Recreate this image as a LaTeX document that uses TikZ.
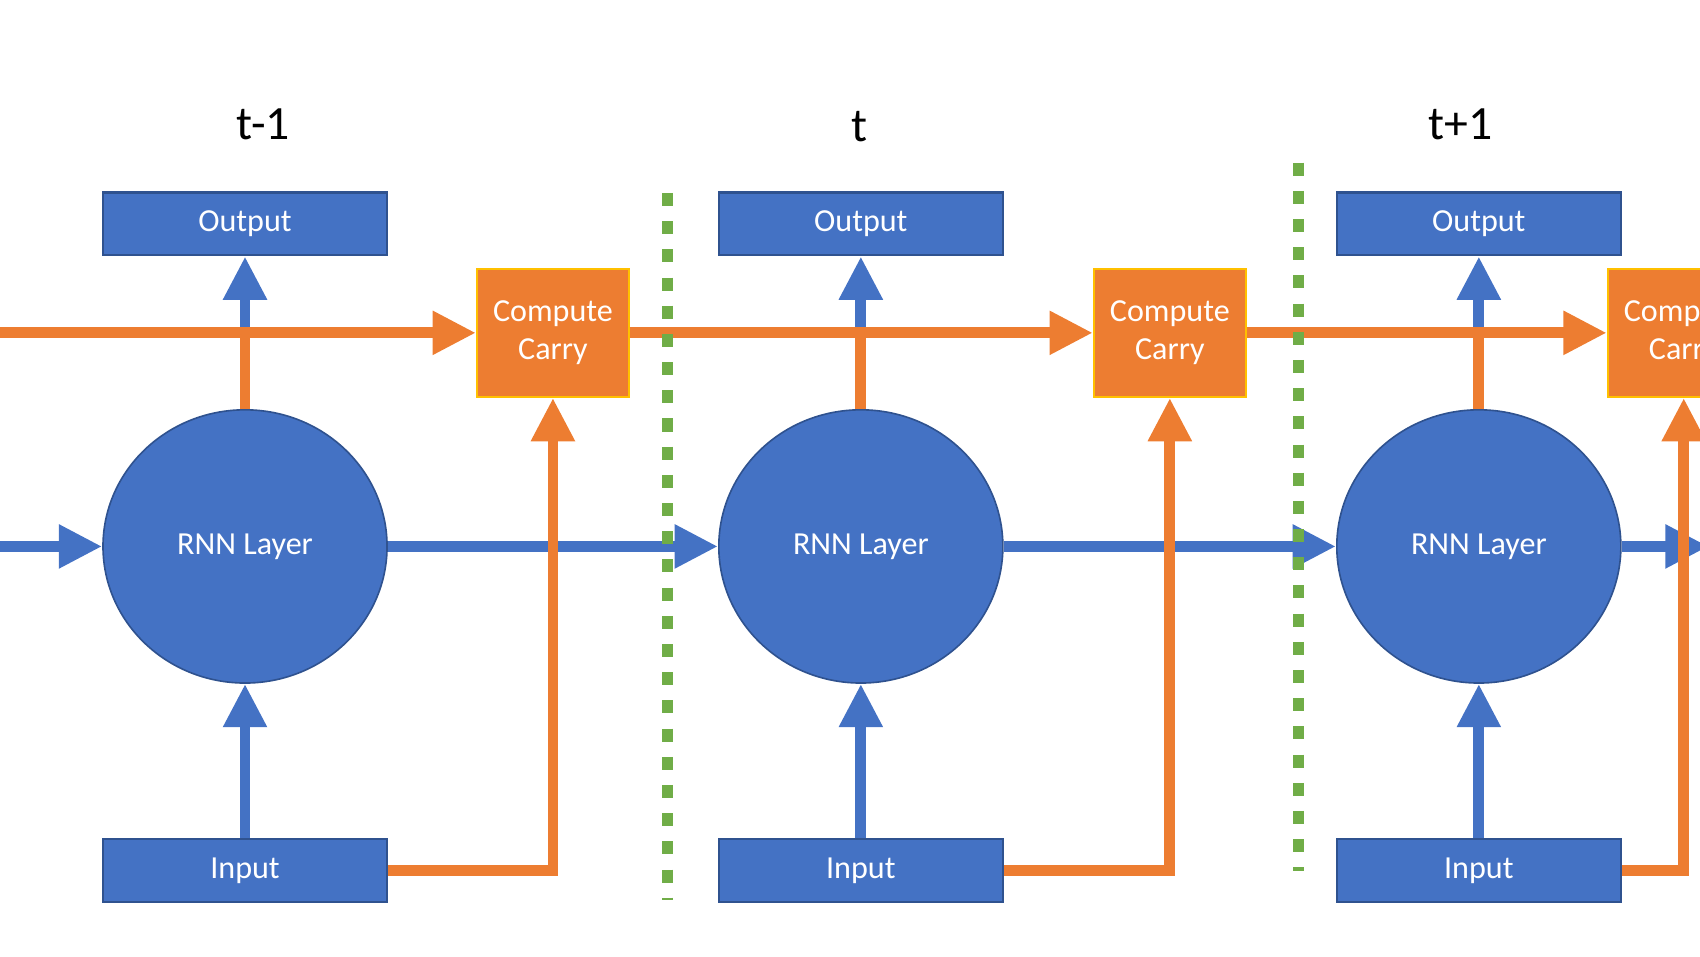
\documentclass[tikz,border=0pt]{standalone}
\usepackage{fontspec}
\setmainfont{Carlito}
\usepackage{tikz}
\usepackage{xcolor}
\usetikzlibrary{arrows.meta,shapes.geometric}
\definecolor{boxblue}{RGB}{68,114,196}
\definecolor{boxedge}{RGB}{47,82,143}
\definecolor{carryorange}{RGB}{237,125,49}
\definecolor{carryedge}{RGB}{255,192,0}
\definecolor{splitgreen}{RGB}{112,173,71}
\tikzset{every picture/.style={line width=0.75pt}}

\begin{document}
\begin{tikzpicture}[x=0.5pt,y=0.5pt,yscale=-1,xscale=1,
  blockbox/.style={draw=boxedge,fill=boxblue,line width=1pt,minimum width=131pt,minimum height=29pt,inner sep=0pt,text=white,font=\fontsize{14.8}{17.5}\selectfont},
  carrybox/.style={draw=carryedge,fill=carryorange,line width=1pt,minimum width=70pt,minimum height=59pt,inner sep=0pt,text=white,align=center,font=\fontsize{14.8}{17.5}\selectfont},
  layerball/.style={ellipse,draw=boxedge,fill=boxblue,line width=0.75pt,minimum width=131pt,minimum height=126pt,inner sep=0pt,text=white,font=\fontsize{14.8}{17.5}\selectfont},
  steplabel/.style={font=\fontsize{22}{26}\selectfont},
  bluearrow/.style={draw=boxblue,line width=5pt,-{Triangle[length=20pt,width=19pt]}},
  orangeline/.style={draw=carryorange,line width=5pt},
  orangearrow/.style={orangeline,-{Triangle[length=20pt,width=19pt]}},
  sepline/.style={draw=splitgreen,line width=5pt,dash pattern=on 6pt off 7pt}]
\clip (0,0) rectangle (1568,882);

% Step labels
\node[steplabel] (lab1) at (243,115) {t-1};
\node[steplabel] (lab2) at (793,117) {t};
\node[steplabel] (lab3) at (1347,115) {t+1};

%Shape: Output boxes
\node[blockbox] (out1) at (226,206.5) {Output};
\node[blockbox] (out2) at (794,206.5) {Output};
\node[blockbox] (out3) at (1364,206.5) {Output};
%Shape: Compute Carry boxes
\node[carrybox] (cc1) at (510,307) {Compute\\Carry};
\node[carrybox] (cc2) at (1079,307) {Compute\\Carry};
\node[carrybox] (cc3) at (1553,307) {Compute\\Carry};
%Shape: Ellipses
\node[layerball] (rnn1) at (226,504) {RNN Layer};
\node[layerball] (rnn2) at (794,504) {RNN Layer};
\node[layerball] (rnn3) at (1364,504) {RNN Layer};
%Shape: Input boxes
\node[blockbox] (in1) at (226,803) {Input};
\node[blockbox] (in2) at (794,803) {Input};
\node[blockbox] (in3) at (1364,803) {Input};

% Free ends
\coordinate (carryin) at (0,307);
\coordinate (statein) at (0,504);
\coordinate (stateout) at (1576,504);
\coordinate (sepatop) at (616,178);
\coordinate (sepabot) at (616,830);
\coordinate (sepbtop) at (1198,150);
\coordinate (sepbbot) at (1198,803);

%Straight Lines: hidden state
\draw[bluearrow] (statein) -- (rnn1.west);
\draw[bluearrow] (rnn1.east) -- (rnn2.west);
\draw[bluearrow] (rnn2.east) -- (rnn3.west);
\draw[bluearrow] (rnn3.east) -- (stateout);
%Straight Lines: input to layer
\draw[bluearrow] (in1.north) -- (rnn1.south);
\draw[bluearrow] (in2.north) -- (rnn2.south);
\draw[bluearrow] (in3.north) -- (rnn3.south);
%Straight Lines: carry line to output
\draw[bluearrow] (rnn1.north |- cc1.west) -- (out1.south);
\draw[bluearrow] (rnn2.north |- cc2.west) -- (out2.south);
\draw[bluearrow] (rnn3.north |- cc3.west) -- (out3.south);
%Straight Lines: layer to carry line
\draw[orangeline] (rnn1.north) -- (rnn1.north |- cc1.west);
\draw[orangeline] (rnn2.north) -- (rnn2.north |- cc2.west);
\draw[orangeline] (rnn3.north) -- (rnn3.north |- cc3.west);
%Straight Lines: carry
\draw[orangearrow] (carryin) -- (cc1.west);
\draw[orangearrow] (cc1.east) -- (cc2.west);
\draw[orangearrow] (cc2.east) -- (cc3.west);
%Straight Lines: input to carry
\draw[orangearrow,line join=miter] (in1.east) -| (cc1.south);
\draw[orangearrow,line join=miter] (in2.east) -| (cc2.south);
\draw[orangearrow,line join=miter] (in3.east) -| (cc3.south);

%Straight Lines: step separators
\draw[sepline] (sepatop) -- (sepabot);
\draw[sepline] (sepbtop) -- (sepbbot);

\end{tikzpicture}
\end{document}
